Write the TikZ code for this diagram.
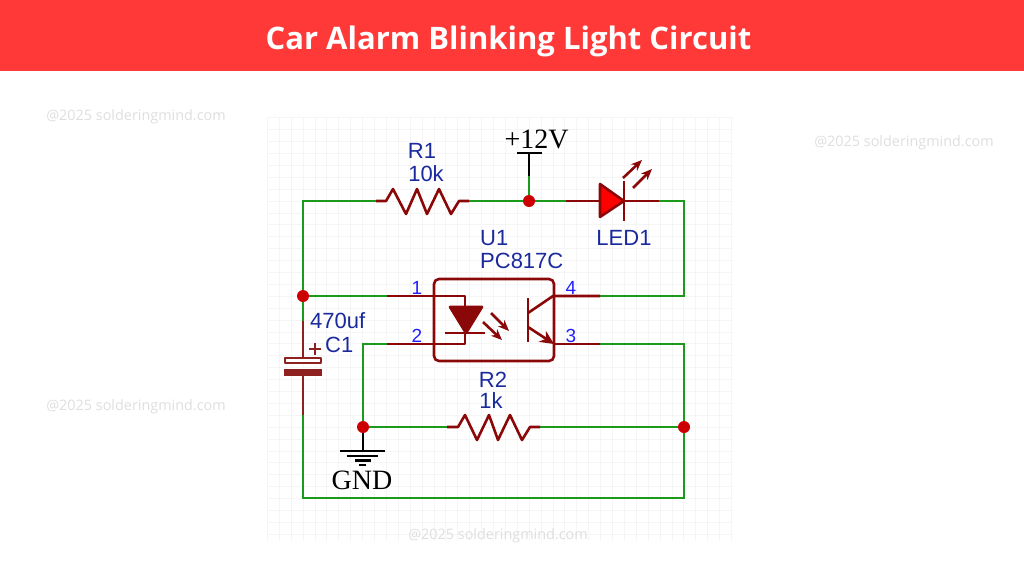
\documentclass[tikz,border=0pt]{standalone}
\usepackage{fontspec}
\setmainfont{Liberation Sans}
\newfontfamily\titlefont{Open Sans}
\newfontfamily\schemfont{Liberation Serif}
\usetikzlibrary{arrows.meta,positioning}
\definecolor{banner}{HTML}{FF3838}
\definecolor{wiregreen}{HTML}{1C9A1C}
\definecolor{partred}{HTML}{8B0808}
\definecolor{capred}{HTML}{8E2020}
\definecolor{ledred}{HTML}{FF0000}
\definecolor{dotred}{HTML}{CC0000}
\definecolor{labelblue}{HTML}{1A2A9C}
\definecolor{pinblue}{HTML}{2020FF}
\definecolor{gridgray}{HTML}{F5F5F5}
\definecolor{markgray}{HTML}{DEDEDE}
\tikzset{
  wire/.style={draw=wiregreen, line width=2.8pt},
  part/.style={draw=partred, line width=2.6pt, line join=round},
  blackline/.style={draw=black, line width=2.6pt},
  dot/.style={circle, fill=dotred, inner sep=0pt, minimum size=12pt},
  refname/.style={text=labelblue, font=\fontsize{22}{22}\selectfont, inner sep=0pt},
  pinname/.style={text=pinblue, font=\fontsize{19}{19}\selectfont, inner sep=0pt},
  railname/.style={text=black, font=\schemfont\fontsize{28}{28}\selectfont, inner sep=0pt},
  watermark/.style={text=markgray, font=\titlefont\fontsize{14.4}{14.4}\selectfont, inner sep=0pt},
  tip/.style={-{Stealth[length=11pt,width=9pt]}}
}
\begin{document}
\begin{tikzpicture}[x=1pt,y=-1pt]
  \useasboundingbox (0,0) rectangle (1024,576);
  \fill[banner] (0,0) rectangle (1024,71);
  \node[text=white, font=\titlefont\bfseries\fontsize{31}{32}\selectfont] (title) at (508.5,41) {Car Alarm Blinking Light Circuit};
  % grid
  \foreach \i in {0,...,39} \draw[gridgray, line width=0.7pt] (267.3+\i*11.9,118) -- (267.3+\i*11.9,541);
  \foreach \i in {0,...,35} \draw[gridgray, line width=0.7pt] (267,117.7+\i*11.9) -- (733,117.7+\i*11.9);
  % watermarks
  \node[watermark] (markA) at (136,117) {@2025 solderingmind.com};
  \node[watermark] (markB) at (904,143) {@2025 solderingmind.com};
  \node[watermark] (markC) at (136,407) {@2025 solderingmind.com};
  \node[watermark] (markD) at (498,536) {@2025 solderingmind.com};
  % junctions
  \coordinate (nodeL) at (303,296);
  \coordinate (nodeV) at (529,201);
  \coordinate (nodeG) at (363,427);
  \coordinate (nodeR) at (684,427);
  % terminals
  \coordinate (cornerTL) at (303,201);
  \coordinate (cornerTR) at (684,201);
  \coordinate (cornerBL) at (303,498);
  \coordinate (cornerBR) at (684,498);
  \coordinate (r1A) at (376,201);
  \coordinate (r1B) at (469,201);
  \coordinate (ledA) at (566,201);
  \coordinate (ledB) at (659,201);
  \coordinate (r2A) at (447,427);
  \coordinate (r2B) at (540,427);
  \coordinate (pin1) at (387,296);
  \coordinate (pin2) at (387,344);
  \coordinate (pin4) at (600,296);
  \coordinate (pin3) at (600,344);
  \coordinate (cornerP2) at (363,344);
  \coordinate (cornerP3) at (684,344);
  \coordinate (capA) at (303,321);
  \coordinate (capB) at (303,415);
  \coordinate (railV) at (529,176);
  % green wires
  \draw[wire] (nodeL) -- (cornerTL) -- (r1A);
  \draw[wire] (r1B) -- (nodeV) -- (ledA);
  \draw[wire] (ledB) -- (cornerTR) -- (684,296) -- (pin4);
  \draw[wire] (nodeV) -- (railV);
  \draw[wire] (nodeL) -- (pin1);
  \draw[wire] (nodeL) -- (capA);
  \draw[wire] (capB) -- (cornerBL) -- (cornerBR) -- (nodeR);
  \draw[wire] (pin2) -- (cornerP2) -- (nodeG) -- (r2A);
  \draw[wire] (r2B) -- (nodeR) -- (cornerP3) -- (pin3);
  % R1
  \draw[part] (r1A) -- (386,201) -- (393,189) -- (406,214) -- (417,189) -- (427,214) -- (439,189) -- (451,214) -- (459,201) -- (r1B);
  % R2
  \draw[part] (r2A) -- (458,427) -- (465,415) -- (477,440) -- (489,415) -- (498,440) -- (510,415) -- (522,440) -- (530,427) -- (r2B);
  % LED1
  \draw[part] (ledA) -- (600,201);
  \draw[part] (624,201) -- (ledB);
  \draw[part, fill=ledred] (600,184) -- (600,217) -- (624,201) -- cycle;
  \draw[part] (624,181) -- (624,221);
  \draw[part, tip] (623,178) -- (642,160);
  \draw[part, tip] (633,188) -- (652,169);
  % U1 body
  \draw[part, rounded corners=5pt] (434,279) rectangle (554,361);
  \draw[part] (pin1) -- (465,296) -- (465,333);
  \draw[part] (pin2) -- (465,344) -- (465,333);
  \draw[part, fill=partred] (450,307) -- (482,307) -- (466,333) -- cycle;
  \draw[part] (445,333) -- (485,333);
  \draw[part, tip] (491,313) -- (509,331);
  \draw[part, tip] (483,322) -- (502,340);
  \draw[part] (528,298) -- (528,342);
  \draw[part] (528,313) -- (553,296) -- (pin4);
  \draw[part, -{Stealth[length=14pt,width=13pt]}] (528,327) -- (554,344);
  \draw[part] (553,344) -- (pin3);
  % C1
  \draw[part, draw=capred] (capA) -- (303,358);
  \draw[part, draw=capred] (303,376) -- (capB);
  \draw[part, draw=capred, fill=white, line width=1.8pt] (285,358) rectangle (321,363);
  \fill[capred] (284,369) rectangle (322,376);
  \draw[part, draw=capred] (309,349) -- (321,349) (315,343) -- (315,355);
  % rails
  \draw[blackline] (railV) -- (529,153);
  \draw[blackline] (517,153) -- (542,153);
  \draw[blackline] (nodeG) -- (363,451);
  \draw[blackline] (340,451) -- (385,451);
  \draw[blackline] (347,455.8) -- (378,455.8);
  \draw[blackline] (355,460.5) -- (371,460.5);
  \draw[blackline] (359,465) -- (366,465);
  % dots
  \foreach \n in {nodeL,nodeV,nodeG,nodeR} \node[dot] at (\n) {};
  % labels
  \node[railname] (railPlus) at (536.5,139) {+12V};
  \node[railname] (railGnd) at (362,480) {GND};
  \node[refname] (r1Name) at (422,151) {R1};
  \node[refname] (r1Value) at (426,174) {10k};
  \node[refname] (ledName) at (624,238) {LED1};
  \node[refname, anchor=west] (u1Name) at (480,238) {U1};
  \node[refname, anchor=west] (u1Value) at (480,261) {PC817C};
  \node[refname, anchor=west] (c1Value) at (310,321) {470uf};
  \node[refname, anchor=west] (c1Name) at (325,345) {C1};
  \node[refname] (r2Name) at (493,380) {R2};
  \node[refname] (r2Value) at (491,401) {1k};
  \node[pinname] (pinA) at (417,288) {1};
  \node[pinname] (pinB) at (417,336) {2};
  \node[pinname] (pinC) at (571,336) {3};
  \node[pinname] (pinD) at (571,288) {4};
\end{tikzpicture}
\end{document}
